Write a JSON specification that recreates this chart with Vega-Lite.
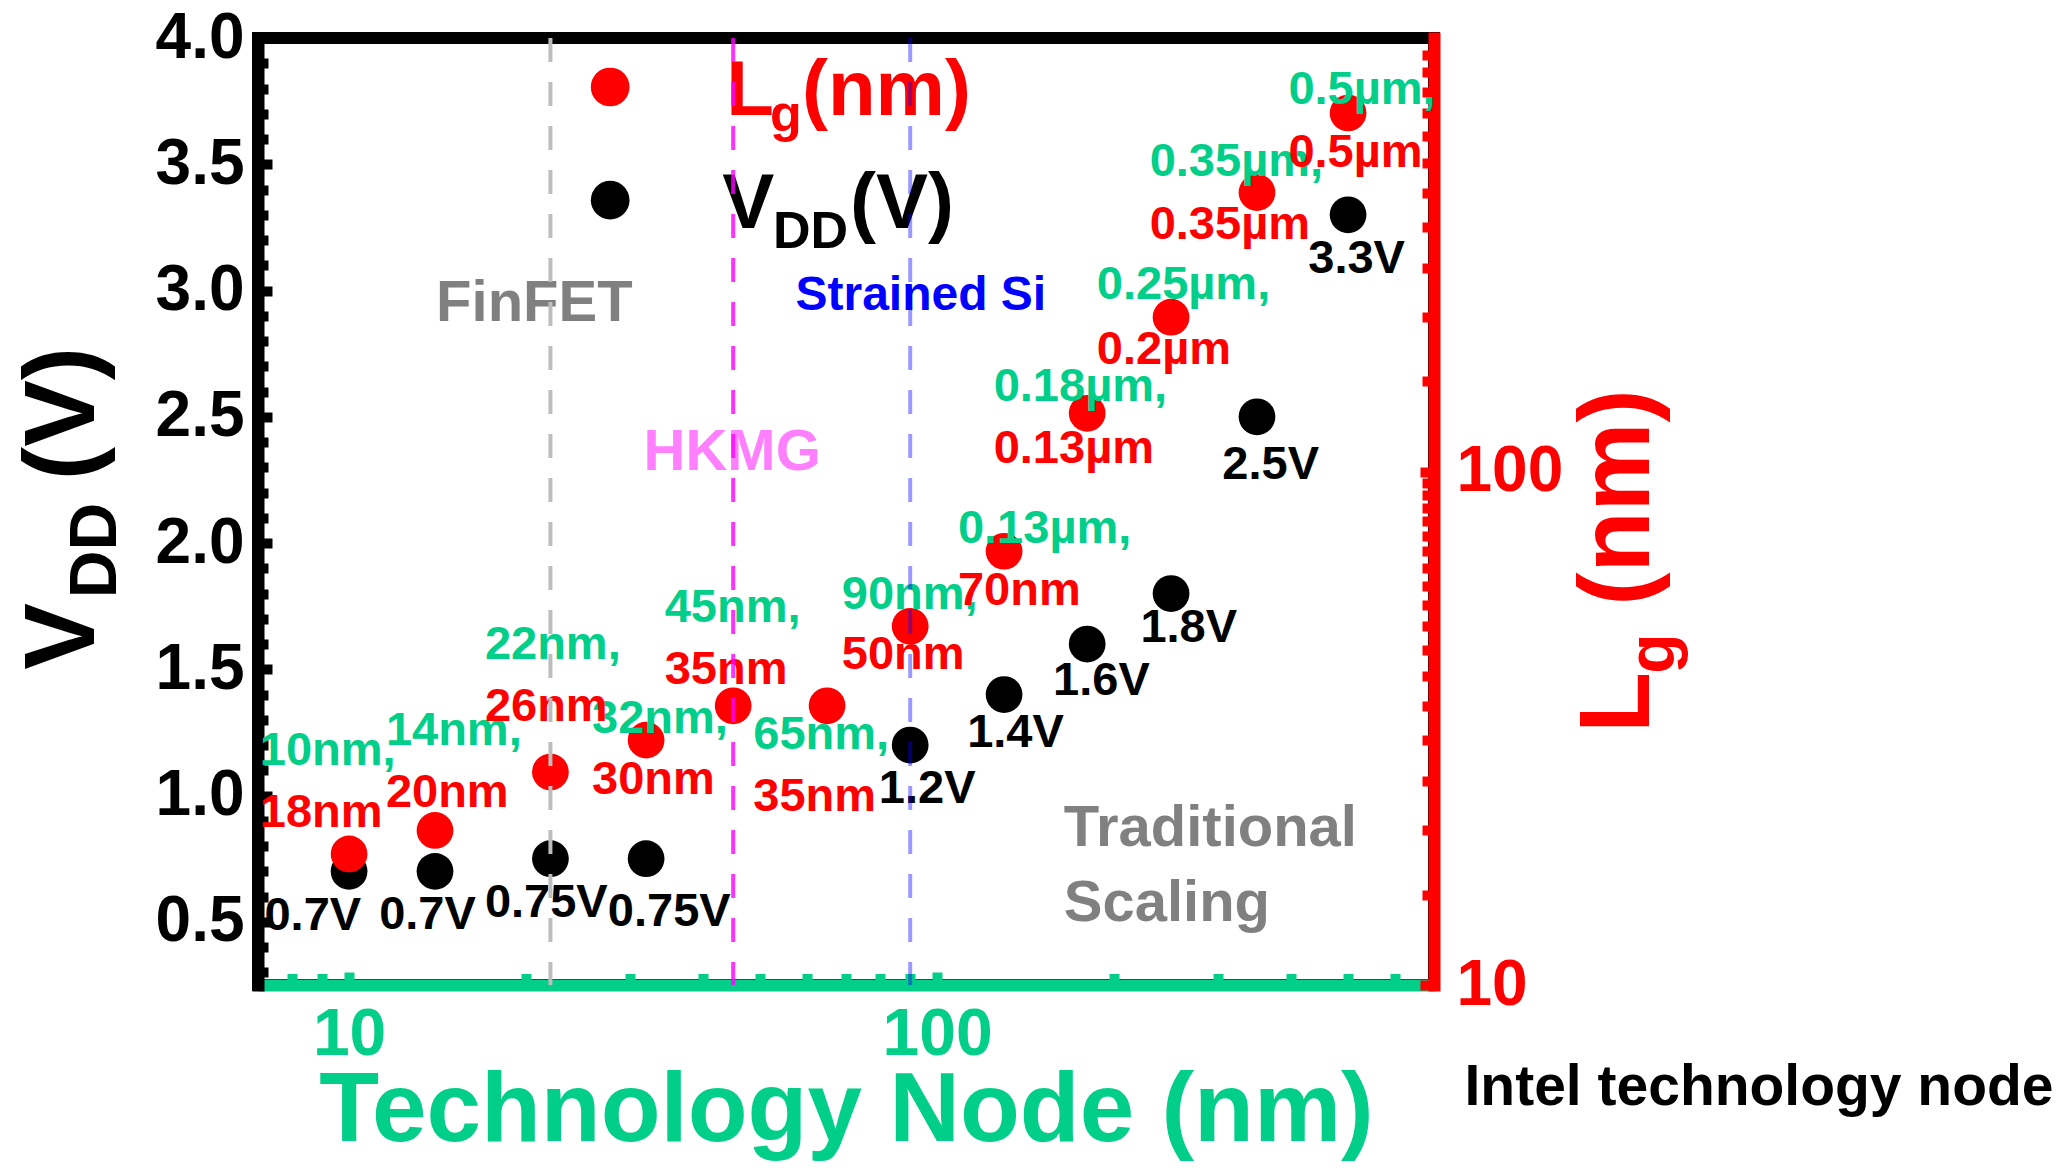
{
  "$schema": "https://vega.github.io/schema/vega-lite/v6.json",
  "width": 1176,
  "height": 947,
  "autosize": {"type": "none"},
  "padding": {"left": 258, "top": 38, "right": 638, "bottom": 185},
  "background": "#ffffff",
  "config": {
    "view": {"stroke": "#000000", "strokeWidth": 12},
    "font": "Liberation Sans",
    "axis": {"labelFont": "Liberation Sans", "titleFont": "Liberation Sans", "labelFontWeight": "bold", "titleFontWeight": "bold", "grid": false, "labelOverlap": false, "labelBound": false, "labelFlush": false}
  },
  "datasets": {
    "vdd": [
      {"node": 10, "v": 0.7}, {"node": 14, "v": 0.7}, {"node": 22, "v": 0.75}, {"node": 32, "v": 0.75},
      {"node": 90, "v": 1.2}, {"node": 130, "v": 1.4}, {"node": 180, "v": 1.6}, {"node": 250, "v": 1.8},
      {"node": 350, "v": 2.5}, {"node": 500, "v": 3.3}
    ],
    "lg": [
      {"node": 10, "lg": 18}, {"node": 14, "lg": 20}, {"node": 22, "lg": 26}, {"node": 32, "lg": 30},
      {"node": 45, "lg": 35}, {"node": 65, "lg": 35}, {"node": 90, "lg": 50}, {"node": 130, "lg": 70},
      {"node": 180, "lg": 130}, {"node": 250, "lg": 200}, {"node": 350, "lg": 350}, {"node": 500, "lg": 500}
    ],
    "nodeLabels": [
      {"node": 7.05, "v": 1.178, "label": "10nm,"},
      {"node": 11.55, "v": 1.257, "label": "14nm,"},
      {"node": 17.02, "v": 1.597, "label": "22nm,"},
      {"node": 25.89, "v": 1.304, "label": "32nm,"},
      {"node": 34.41, "v": 1.743, "label": "45nm,"},
      {"node": 48.68, "v": 1.241, "label": "65nm,"},
      {"node": 68.85, "v": 1.796, "label": "90nm,"},
      {"node": 108.5, "v": 2.057, "label": "0.13µm,"},
      {"node": 124.8, "v": 2.617, "label": "0.18µm,"},
      {"node": 186.9, "v": 3.02, "label": "0.25µm,"},
      {"node": 229.9, "v": 3.507, "label": "0.35µm,"},
      {"node": 395.8, "v": 3.795, "label": "0.5µm,"}
    ],
    "lgLabels": [
      {"node": 7.05, "v": 0.932, "label": "18nm"},
      {"node": 11.55, "v": 1.011, "label": "20nm"},
      {"node": 17.02, "v": 1.351, "label": "26nm"},
      {"node": 25.89, "v": 1.063, "label": "30nm"},
      {"node": 34.41, "v": 1.497, "label": "35nm"},
      {"node": 48.68, "v": 0.995, "label": "35nm"},
      {"node": 68.85, "v": 1.555, "label": "50nm"},
      {"node": 108.5, "v": 1.811, "label": "70nm"},
      {"node": 124.8, "v": 2.371, "label": "0.13µm"},
      {"node": 186.9, "v": 2.764, "label": "0.2µm"},
      {"node": 229.9, "v": 3.261, "label": "0.35µm"},
      {"node": 395.8, "v": 3.543, "label": "0.5µm"}
    ],
    "vLabels": [
      {"node": 7.18, "v": 0.524, "label": "0.7V"},
      {"node": 11.25, "v": 0.529, "label": "0.7V"},
      {"node": 17.02, "v": 0.576, "label": "0.75V"},
      {"node": 27.55, "v": 0.54, "label": "0.75V"},
      {"node": 79.6, "v": 1.026, "label": "1.2V"},
      {"node": 112.5, "v": 1.246, "label": "1.4V"},
      {"node": 157.5, "v": 1.455, "label": "1.6V"},
      {"node": 221.7, "v": 1.665, "label": "1.8V"},
      {"node": 305.6, "v": 2.308, "label": "2.5V"},
      {"node": 427.8, "v": 3.125, "label": "3.3V"}
    ]
  },
  "layer": [
    {
      "data": {"name": "lg"},
      "mark": {"type": "point", "filled": true, "opacity": 0},
      "encoding": {
        "x": {"field": "node", "type": "quantitative", "scale": {"type": "log", "domain": [7, 700], "nice": false}, "axis": null},
        "y": {"field": "lg", "type": "quantitative", "scale": {"type": "log", "domain": [10, 700], "nice": false},
          "axis": {"orient": "right", "values": [15, 20, 25, 30, 35, 40, 45, 50, 55, 60, 65, 70, 75, 80, 85, 90, 95, 150, 200, 250, 300, 350, 400, 450, 500, 550, 600, 650],
            "domain": false, "labels": false, "tickColor": "#FF0000", "tickWidth": 10, "tickSize": -12,
            "title": "g", "titleColor": "#FF0000", "titleFontSize": 66, "titleAngle": 270, "titleX": 239, "titleY": 615, "titleBaseline": "alphabetic", "titleAlign": "center"}}
      }
    },
    {
      "data": {"name": "lg"},
      "mark": {"type": "point", "filled": true, "opacity": 0},
      "encoding": {
        "x": {"field": "node", "type": "quantitative", "scale": {"type": "log", "domain": [7, 700], "nice": false}, "axis": null},
        "y": {"field": "lg", "type": "quantitative", "scale": {"type": "log", "domain": [10, 700], "nice": false},
          "axis": {"orient": "right", "domain": false, "ticks": false, "labels": false,
            "title": "(nm)", "titleColor": "#FF0000", "titleFontSize": 100, "titleAngle": 270, "titleX": 214, "titleY": 459, "titleBaseline": "alphabetic", "titleAlign": "center"}}
      }
    },
    {
      "data": {"name": "vdd"},
      "mark": {"type": "point", "filled": true, "color": "#000000", "opacity": 1, "size": 1350},
      "encoding": {
        "x": {"field": "node", "type": "quantitative", "scale": {"type": "log", "domain": [7, 700], "nice": false},
          "axis": {"orient": "bottom", "values": [10, 100], "format": "d",
            "domainColor": "#00CE89", "domainWidth": 12, "domainCap": "butt",
            "tickColor": "#00CE89", "tickWidth": 10, "tickSize": -13,
            "labelColor": "#00CE89", "labelFontSize": 66, "labelPadding": 30,
            "title": "Technology Node (nm)", "titleColor": "#00CE89", "titleFontSize": 98, "titleY": 155, "titleBaseline": "alphabetic"}},
        "y": {"field": "v", "type": "quantitative", "scale": {"domain": [0.25, 4], "nice": false, "zero": false},
          "axis": {"orient": "left", "values": [0.5, 1, 1.5, 2, 2.5, 3, 3.5, 4], "format": ".1f",
            "domainColor": "#000000", "domainWidth": 12, "domainCap": "square",
            "tickColor": "#000000", "tickWidth": 10, "tickSize": -14,
            "labelColor": "#000000", "labelFontSize": 64, "labelPadding": 28,
            "title": "V", "titleColor": "#000000", "titleFontSize": 100, "titleAngle": 270, "titleX": -165, "titleY": 598, "titleBaseline": "alphabetic", "titleAlign": "center"}}
      }
    },
    {
      "data": {"name": "lg"},
      "mark": {"type": "point", "filled": true, "color": "#FF0000", "opacity": 1, "size": 1350},
      "encoding": {
        "x": {"field": "node", "type": "quantitative", "scale": {"type": "log", "domain": [7, 700], "nice": false}, "axis": null},
        "y": {"field": "lg", "type": "quantitative", "scale": {"type": "log", "domain": [10, 700], "nice": false},
          "axis": {"orient": "right", "values": [10, 100], "format": "d",
            "domainColor": "#FF0000", "domainWidth": 12, "domainCap": "square",
            "tickColor": "#FF0000", "tickWidth": 10, "tickSize": -14,
            "labelColor": "#FF0000", "labelFontSize": 64, "labelPadding": 36,
            "title": "L", "titleColor": "#FF0000", "titleFontSize": 100, "titleAngle": 270, "titleX": 214, "titleY": 664, "titleBaseline": "alphabetic", "titleAlign": "center"}}
      }
    },
    {
      "data": {"name": "nodeLabels"},
      "mark": {"type": "text", "align": "left", "baseline": "middle", "font": "Liberation Sans", "fontWeight": "bold", "fontSize": 47, "color": "#00CE89"},
      "encoding": {
        "x": {"field": "node", "type": "quantitative", "scale": {"type": "log", "domain": [7, 700], "nice": false},
          "axis": {"orient": "bottom", "values": [8, 9, 20, 30, 40, 50, 60, 70, 80, 90, 200, 300, 400, 500, 600],
            "domain": false, "labels": false, "tickColor": "#00CE89", "tickWidth": 10, "tickSize": -11.5,
            "title": "Intel technology node", "titleColor": "#000000", "titleFontSize": 57, "titleX": 1206, "titleY": 119, "titleAlign": "left", "titleBaseline": "alphabetic", "titleAngle": 0}},
        "y": {"field": "v", "type": "quantitative", "scale": {"domain": [0.25, 4], "nice": false, "zero": false},
          "axis": {"orient": "left", "values": [0.3, 0.4, 0.6, 0.7, 0.8, 0.9, 1.1, 1.2, 1.3, 1.4, 1.6, 1.7, 1.8, 1.9, 2.1, 2.2, 2.3, 2.4, 2.6, 2.7, 2.8, 2.9, 3.1, 3.2, 3.3, 3.4, 3.6, 3.7, 3.8, 3.9],
            "domain": false, "labels": false, "tickColor": "#000000", "tickWidth": 10, "tickSize": -10,
            "title": "DD", "titleColor": "#000000", "titleFontSize": 66, "titleAngle": 270, "titleX": -143, "titleY": 512, "titleBaseline": "alphabetic", "titleAlign": "center"}},
        "text": {"field": "label", "type": "nominal"}
      }
    },
    {
      "data": {"name": "lgLabels"},
      "mark": {"type": "text", "align": "left", "baseline": "middle", "font": "Liberation Sans", "fontWeight": "bold", "fontSize": 47, "color": "#FF0000"},
      "encoding": {
        "x": {"field": "node", "type": "quantitative", "scale": {"type": "log", "domain": [7, 700], "nice": false}, "axis": null},
        "y": {"field": "v", "type": "quantitative", "scale": {"domain": [0.25, 4], "nice": false, "zero": false},
          "axis": {"orient": "left", "domain": false, "ticks": false, "labels": false,
            "title": "(V)", "titleColor": "#000000", "titleFontSize": 100, "titleAngle": 270, "titleX": -165, "titleY": 375, "titleBaseline": "alphabetic", "titleAlign": "center"}},
        "text": {"field": "label", "type": "nominal"}
      }
    },
    {
      "data": {"name": "vLabels"},
      "mark": {"type": "text", "align": "left", "baseline": "middle", "font": "Liberation Sans", "fontWeight": "bold", "fontSize": 47, "color": "#000000"},
      "encoding": {
        "x": {"field": "node", "type": "quantitative", "scale": {"type": "log", "domain": [7, 700], "nice": false}, "axis": null},
        "y": {"field": "v", "type": "quantitative", "scale": {"domain": [0.25, 4], "nice": false, "zero": false}, "axis": null},
        "text": {"field": "label", "type": "nominal"}
      }
    },
    {
      "data": {"values": [{"node": 14.06, "v": 2.947, "label": "FinFET"}, {"node": 164.2, "v": 0.869, "label": "Traditional"}, {"node": 164.2, "v": 0.571, "label": "Scaling"}]},
      "mark": {"type": "text", "align": "left", "baseline": "middle", "font": "Liberation Sans", "fontWeight": "bold", "fontSize": 58, "color": "#808080"},
      "encoding": {
        "x": {"field": "node", "type": "quantitative", "scale": {"type": "log", "domain": [7, 700], "nice": false}, "axis": null},
        "y": {"field": "v", "type": "quantitative", "scale": {"domain": [0.25, 4], "nice": false, "zero": false}, "axis": null},
        "text": {"field": "label", "type": "nominal"}
      }
    },
    {
      "data": {"values": [{"node": 31.68, "v": 2.356, "label": "HKMG"}]},
      "mark": {"type": "text", "align": "left", "baseline": "middle", "font": "Liberation Sans", "fontWeight": "bold", "fontSize": 58, "color": "#FF80FF"},
      "encoding": {
        "x": {"field": "node", "type": "quantitative", "scale": {"type": "log", "domain": [7, 700], "nice": false}, "axis": null},
        "y": {"field": "v", "type": "quantitative", "scale": {"domain": [0.25, 4], "nice": false, "zero": false}, "axis": null},
        "text": {"field": "label", "type": "nominal"}
      }
    },
    {
      "data": {"values": [{"node": 57.43, "v": 2.978, "label": "Strained Si"}]},
      "mark": {"type": "text", "align": "left", "baseline": "middle", "font": "Liberation Sans", "fontWeight": "bold", "fontSize": 48, "color": "#0000FF"},
      "encoding": {
        "x": {"field": "node", "type": "quantitative", "scale": {"type": "log", "domain": [7, 700], "nice": false}, "axis": null},
        "y": {"field": "v", "type": "quantitative", "scale": {"domain": [0.25, 4], "nice": false, "zero": false}, "axis": null},
        "text": {"field": "label", "type": "nominal"}
      }
    },
    {
      "data": {"values": [{"node": 27.8, "v": 3.806}]},
      "mark": {"type": "point", "filled": true, "color": "#FF0000", "opacity": 1, "size": 1500},
      "encoding": {
        "x": {"field": "node", "type": "quantitative", "scale": {"type": "log", "domain": [7, 700], "nice": false}, "axis": null},
        "y": {"field": "v", "type": "quantitative", "scale": {"domain": [0.25, 4], "nice": false, "zero": false}, "axis": null}
      }
    },
    {
      "data": {"values": [{"node": 27.8, "v": 3.358}]},
      "mark": {"type": "point", "filled": true, "color": "#000000", "opacity": 1, "size": 1500},
      "encoding": {
        "x": {"field": "node", "type": "quantitative", "scale": {"type": "log", "domain": [7, 700], "nice": false}, "axis": null},
        "y": {"field": "v", "type": "quantitative", "scale": {"domain": [0.25, 4], "nice": false, "zero": false}, "axis": null}
      }
    },
    {
      "data": {"values": [{"node": 43.8, "v": 3.695, "label": "L"}, {"node": 58.9, "v": 3.695, "label": "(nm)"}]},
      "mark": {"type": "text", "align": "left", "baseline": "alphabetic", "font": "Liberation Sans", "fontWeight": "bold", "fontSize": 78, "color": "#FF0000"},
      "encoding": {
        "x": {"field": "node", "type": "quantitative", "scale": {"type": "log", "domain": [7, 700], "nice": false}, "axis": null},
        "y": {"field": "v", "type": "quantitative", "scale": {"domain": [0.25, 4], "nice": false, "zero": false}, "axis": null},
        "text": {"field": "label", "type": "nominal"}
      }
    },
    {
      "data": {"values": [{"node": 52.0, "v": 3.632, "label": "g"}]},
      "mark": {"type": "text", "align": "left", "baseline": "alphabetic", "font": "Liberation Sans", "fontWeight": "bold", "fontSize": 52, "color": "#FF0000"},
      "encoding": {
        "x": {"field": "node", "type": "quantitative", "scale": {"type": "log", "domain": [7, 700], "nice": false}, "axis": null},
        "y": {"field": "v", "type": "quantitative", "scale": {"domain": [0.25, 4], "nice": false, "zero": false}, "axis": null},
        "text": {"field": "label", "type": "nominal"}
      }
    },
    {
      "data": {"values": [{"node": 43.1, "v": 3.2475, "label": "V"}, {"node": 71.1, "v": 3.2475, "label": "(V)"}]},
      "mark": {"type": "text", "align": "left", "baseline": "alphabetic", "font": "Liberation Sans", "fontWeight": "bold", "fontSize": 78, "color": "#000000"},
      "encoding": {
        "x": {"field": "node", "type": "quantitative", "scale": {"type": "log", "domain": [7, 700], "nice": false}, "axis": null},
        "y": {"field": "v", "type": "quantitative", "scale": {"domain": [0.25, 4], "nice": false, "zero": false}, "axis": null},
        "text": {"field": "label", "type": "nominal"}
      }
    },
    {
      "data": {"values": [{"node": 52.6, "v": 3.168, "label": "DD"}]},
      "mark": {"type": "text", "align": "left", "baseline": "alphabetic", "font": "Liberation Sans", "fontWeight": "bold", "fontSize": 52, "color": "#000000"},
      "encoding": {
        "x": {"field": "node", "type": "quantitative", "scale": {"type": "log", "domain": [7, 700], "nice": false}, "axis": null},
        "y": {"field": "v", "type": "quantitative", "scale": {"domain": [0.25, 4], "nice": false, "zero": false}, "axis": null},
        "text": {"field": "label", "type": "nominal"}
      }
    },
    {
      "data": {"values": [{"node": 22}]},
      "mark": {"type": "rule", "color": "#BDBDBD", "strokeWidth": 4, "strokeDash": [24, 20]},
      "encoding": {
        "x": {"field": "node", "type": "quantitative", "scale": {"type": "log", "domain": [7, 700], "nice": false}, "axis": null}
      }
    },
    {
      "data": {"values": [{"node": 45}]},
      "mark": {"type": "rule", "color": "#FF00FF", "opacity": 0.8, "strokeWidth": 4, "strokeDash": [24, 20]},
      "encoding": {
        "x": {"field": "node", "type": "quantitative", "scale": {"type": "log", "domain": [7, 700], "nice": false}, "axis": null}
      }
    },
    {
      "data": {"values": [{"node": 90}]},
      "mark": {"type": "rule", "color": "#0000FF", "opacity": 0.4, "strokeWidth": 4, "strokeDash": [24, 20]},
      "encoding": {
        "x": {"field": "node", "type": "quantitative", "scale": {"type": "log", "domain": [7, 700], "nice": false}, "axis": null}
      }
    }
  ],
  "resolve": {"scale": {"y": "independent"}, "axis": {"x": "independent", "y": "independent"}}
}
